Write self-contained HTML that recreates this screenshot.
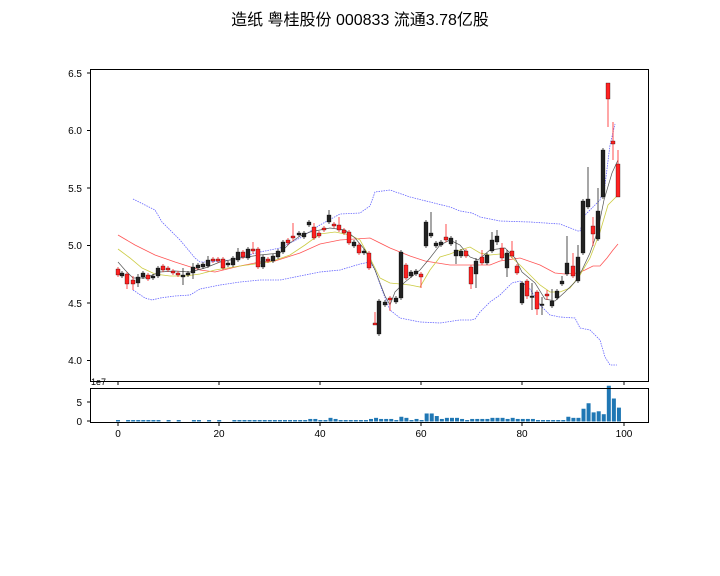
<!DOCTYPE html>
<html><head><meta charset="utf-8"><style>
html,body{margin:0;padding:0;background:#fff;width:720px;height:576px;overflow:hidden}
svg{display:block}
text{font-family:"Liberation Sans","Noto Sans CJK SC",sans-serif;fill:#000}
</style></head><body>
<svg id="s" width="720" height="576" viewBox="0 0 720 576" xmlns="http://www.w3.org/2000/svg">
<rect width="720" height="576" fill="#fff"/>
<text x="360" y="25" font-size="16" text-anchor="middle">造纸 粤桂股份 000833 流通3.78亿股</text>
<g id="main"></g>
<rect x="90.5" y="69.5" width="558" height="312" fill="none" stroke="#000" stroke-width="1"/>
<rect x="90.5" y="388.5" width="558" height="34" fill="none" stroke="#000" stroke-width="1"/>
<g font-size="10" text-anchor="end">
<text x="82" y="77">6.5</text><text x="82" y="134">6.0</text><text x="82" y="192">5.5</text>
<text x="82" y="249">5.0</text><text x="82" y="307">4.5</text><text x="82" y="364">4.0</text>
<text x="82" y="406">5</text><text x="82" y="425">0</text>
</g>
<text x="91" y="385" font-size="9">1e7</text>
<g font-size="10" text-anchor="middle">
<text x="118" y="437">0</text><text x="219" y="437">20</text><text x="320" y="437">40</text>
<text x="421" y="437">60</text><text x="522" y="437">80</text><text x="624" y="437">100</text>
</g>
<g stroke="#000" stroke-width="1">
<line x1="87" y1="73" x2="90" y2="73"/><line x1="87" y1="130.5" x2="90" y2="130.5"/><line x1="87" y1="188" x2="90" y2="188"/>
<line x1="87" y1="245.5" x2="90" y2="245.5"/><line x1="87" y1="303" x2="90" y2="303"/><line x1="87" y1="360.5" x2="90" y2="360.5"/>
<line x1="87" y1="402" x2="90" y2="402"/><line x1="87" y1="421" x2="90" y2="421"/>
<line x1="118" y1="382" x2="118" y2="385"/><line x1="219" y1="382" x2="219" y2="385"/><line x1="320" y1="382" x2="320" y2="385"/>
<line x1="421" y1="382" x2="421" y2="385"/><line x1="522" y1="382" x2="522" y2="385"/><line x1="624" y1="382" x2="624" y2="385"/>
<line x1="118" y1="423" x2="118" y2="426"/><line x1="219" y1="423" x2="219" y2="426"/><line x1="320" y1="423" x2="320" y2="426"/>
<line x1="421" y1="423" x2="421" y2="426"/><line x1="522" y1="423" x2="522" y2="426"/><line x1="624" y1="423" x2="624" y2="426"/>
</g>
</svg>
<script>
var NS="http://www.w3.org/2000/svg",g=document.getElementById("main");
function el(t,a){var e=document.createElementNS(NS,t);for(var k in a)e.setAttribute(k,a[k]);g.appendChild(e);return e;}
function pl(pts,c,w,d){el("polyline",{points:pts,fill:"none",stroke:c,"stroke-width":w,"stroke-dasharray":d||""});}
pl("133,199 155,210 162,222 180,240 195,258 200,262 210,262 230,260 260,252 280,248 300,238 320,225 340,214 360,213 370,206 375,192 390,190 410,197 430,202 450,207 460,211 472,213 480,217 500,221 530,222 560,224 578,231 580,231 585,215 595,205 600,200 605,185 610,145 615,124","#6666ff",0.8,"1.5,1");
pl("133,290 145,298 152,300 160,298 175,296 190,295 200,289 220,285 240,282 260,280 280,280 300,276 320,272 340,270 360,264 370,262 375,270 382,290 390,310 400,318 420,322 440,323 460,320 471,320 475,319 480,312 490,302 500,295 512,283 520,281 530,289 540,305 550,315 560,317 575,318 580,328 590,330 600,340 605,357 610,365 617,365","#6666ff",0.8,"1.5,1");
pl("118,235 135,245 155,255 175,262 200,270 215,272 240,266 260,262 275,261 300,253 320,244 340,240 370,238 390,248 410,256 425,261 450,265 471,265 490,265 500,261 520,258 540,265 555,273 565,274 578,273 585,270 593,266 600,266 607,258 613,250 618,244","#ff5555",0.8);
pl("118,249 130,258 142,268 155,274 170,276 185,276 200,274 215,270 240,266 270,262 290,255 305,245 320,234 335,232 350,235 360,240 370,258 380,278 390,283 400,284 410,285 420,287 430,270 440,257 450,254 460,250 470,247 480,253 490,255 500,254 510,256 520,265 530,275 540,285 550,292 560,292 570,288 580,275 590,258 600,232 608,205 617,196","#cccc44",0.8);
pl("118,262 125,270 133,278 145,278 160,272 175,271 190,272 205,268 220,262 240,258 260,255 280,253 290,243 300,236 310,232 330,228 345,230 355,238 365,250 375,270 385,296 390,305 395,292 405,282 420,270 430,258 440,245 450,240 460,245 470,257 478,260 490,250 505,248 515,258 522,272 535,283 545,299 555,301 565,292 575,282 582,270 590,253 598,230 604,200 612,173 618,160","#555",0.7);
var C=[[118,269,275,'r',267,277],[122,273,276,'k'],[127,274,284,'r',272,289],[133,280,284,'r',276,290],[138,277,283,'k',274,287],[143,273,277,'k'],[148,275,279,'r'],[153,276,278,'k'],[158,268,276,'k'],[163,266,270,'r'],[168,268,270,'r'],[173,271,273,'r'],[178,273,275,'r'],[183,275,277,'k',268,285],[188,273,275,'k'],[193,267,273,'k',263,279],[198,265,268,'k'],[203,264,267,'k'],[208,260,266,'k',256,268],[213,259,261,'r'],[218,259,261,'r'],[223,259,268,'r'],[228,263,265,'k'],[233,258,265,'k'],[238,252,260,'k',248,262],[243,252,257,'r'],[248,249,258,'k'],[253,249,251,'r',242,254],[258,249,267,'r'],[263,257,267,'k'],[268,259,261,'r'],[273,256,261,'k'],[278,251,257,'k'],[283,242,252,'k'],[288,240,243,'r'],[293,236,238,'r',223,241],[299,233,235,'k'],[304,233,237,'k'],[309,222,225,'k'],[314,227,238,'r',223,240],[319,233,236,'r'],[324,228,230,'r'],[329,215,222,'k',210,224],[334,224,226,'r'],[339,225,230,'r',217,232],[344,230,233,'r'],[349,232,243,'r'],[354,242,246,'k'],[359,245,253,'r'],[364,251,253,'k'],[369,253,268,'r',251,270],[375,323,325,'r',312,325],[379,301,334,'k'],[385,302,305,'k'],[390,298,300,'r',296,311],[396,298,302,'k'],[401,252,298,'k'],[406,265,278,'r'],[411,272,276,'k'],[416,271,274,'k'],[421,274,277,'r',272,288],[426,222,246,'k'],[431,233,236,'k',212,238],[436,243,246,'k'],[441,242,245,'k'],[446,237,240,'r',224,242],[451,238,244,'k'],[456,250,256,'k',240,264],[461,251,256,'k'],[466,251,256,'r'],[471,267,284,'r',265,289],[476,261,274,'k',258,288],[482,257,263,'r',250,265],[487,255,263,'k'],[492,240,251,'k',232,253],[497,236,242,'k',230,245],[502,248,258,'r',243,260],[507,253,268,'k',250,277],[512,251,256,'r',241,258],[517,266,273,'r'],[522,283,303,'k'],[527,281,296,'r',279,299],[532,296,297,'k',283,310],[537,292,309,'r',290,315],[542,304,305,'k',297,315],[547,294,296,'r',290,300],[552,301,306,'k',289,308],[557,291,298,'k'],[562,281,284,'k',276,286],[567,263,274,'k',236,276],[573,266,276,'r',253,278],[578,257,281,'k',245,283],[583,201,253,'k'],[588,199,207,'k',167,209],[593,226,234,'r',217,246],[598,211,239,'k',188,241],[603,150,197,'k',148,199],[608,83,99,'r',83,127],[613,141,144,'r',122,160],[618,164,197,'r',150,197]];
C.forEach(function(c){var col=c[3]=='r'?'#ff2222':'#222';var wt=c[4]!==undefined?c[4]:c[1]-2,wb=c[5]!==undefined?c[5]:c[2]+2;
el("line",{x1:c[0],x2:c[0],y1:wt,y2:wb,stroke:col,"stroke-width":0.8});
el("rect",{x:c[0]-2,y:c[1],width:4,height:Math.max(1.5,c[2]-c[1]),fill:col,stroke:'#000',"stroke-width":0.3});});
var V=[4,0,4,4,4,4,4,4,4,0,4,0,4,0,0,4,4,0,4,0,4,0,0,4,4,4,4,4,4,4,4,4,4,4,4,4,4,4,7,7,4,4,10,7,4,4,4,4,4,4,7,10,7,7,7,4,13,10,4,7,4,22,22,15,7,10,10,10,7,4,7,7,7,7,10,10,10,7,10,7,7,7,7,4,4,4,4,4,4,13,10,10,35,50,25,28,20,98,63,38];
V.forEach(function(v,i){if(!v)return;var h=v/2.74;el("rect",{x:118+i*5.06-2,y:421.5-h,width:4,height:h,fill:"#1f77b4"});});
</script>
</body></html>
